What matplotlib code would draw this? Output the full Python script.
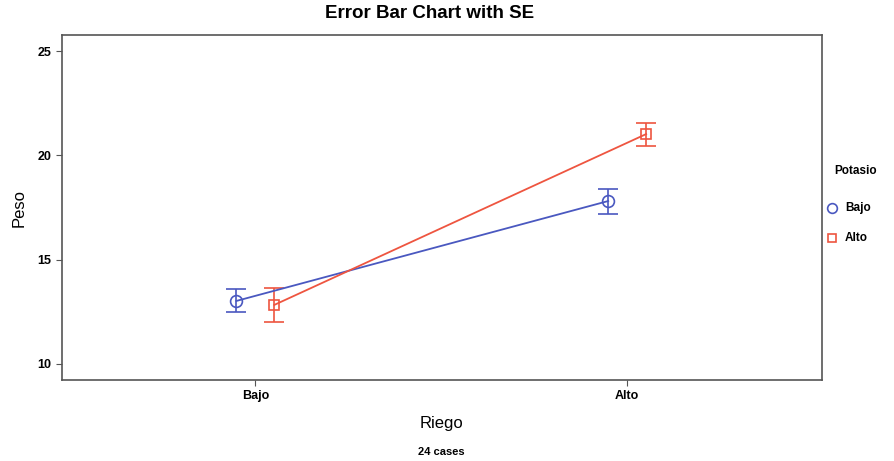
import numpy as np
import matplotlib.pyplot as plt

plt.rcParams['font.family'] = ['Liberation Sans', 'DejaVu Sans']

riego = ['Bajo', 'Alto']
potasio = ['Bajo', 'Alto']
peso_bajo = [13.02, 17.81]   # Potasio = Bajo
se_bajo = [0.55, 0.6]
peso_alto = [12.83, 21.02]   # Potasio = Alto
se_alto = [0.8, 0.55]

x = np.arange(1, len(riego) + 1)
off = 0.051

fig = plt.figure(figsize=(8.95, 4.61), dpi=100)
ax = fig.add_axes([62/895, 1 - 380/461, (822-62)/895, (380-35)/461])

ax.errorbar(x - off, peso_bajo, yerr=se_bajo, color='#4a58c0', marker='o', ms=8.5,
            mfc='none', mew=1.2, lw=1.3, capsize=7, elinewidth=1.2, capthick=1.2)
ax.errorbar(x + off, peso_alto, yerr=se_alto, color='#ee5540', marker='s', ms=7.5,
            mfc='none', mew=1.2, lw=1.3, capsize=7, elinewidth=1.2, capthick=1.2)

ax.set_xlim(0.48, 2.524)
ax.set_ylim(9.23, 25.77)
ax.set_xticks(x)
ax.set_xticklabels(riego, fontsize=9, fontweight='bold')
ax.set_yticks([10, 15, 20, 25])
ax.set_yticklabels(['10', '15', '20', '25'], fontsize=9, fontweight='bold')
ax.tick_params(length=4, color='#555555')
for s in ax.spines.values():
    s.set_color('#555555')
    s.set_linewidth(1.2)

ax.set_xlabel('Riego', fontsize=12, labelpad=10)
ax.set_ylabel('Peso', fontsize=12, labelpad=8)
fig.text(255/895 + (627-255)/895/2, 1 - 452/461, '24 cases', ha='center', va='center',
         fontsize=8, fontweight='bold')
fig.text(0.5 - 0.02, 1 - 14/461, 'Error Bar Chart with SE', ha='center', va='center',
         fontsize=13.5, fontweight='bold')

# legend
fig.text(834/895, 1 - 171/461, 'Potasio', fontsize=8.5, fontweight='bold', va='center')
fig.lines.append(plt.Line2D([832/895], [1 - 208/461], marker='o', ms=7, mfc='none',
                            mec='#4a58c0', mew=1.2, transform=fig.transFigure))
fig.text(845/895, 1 - 208/461, potasio[0], fontsize=8.5, fontweight='bold', va='center')
fig.lines.append(plt.Line2D([832/895], [1 - 238/461], marker='s', ms=6, mfc='none',
                            mec='#ee5540', mew=1.2, transform=fig.transFigure))
fig.text(845/895, 1 - 238/461, potasio[1], fontsize=8.5, fontweight='bold', va='center')

fig.savefig('out.png', dpi=100)
